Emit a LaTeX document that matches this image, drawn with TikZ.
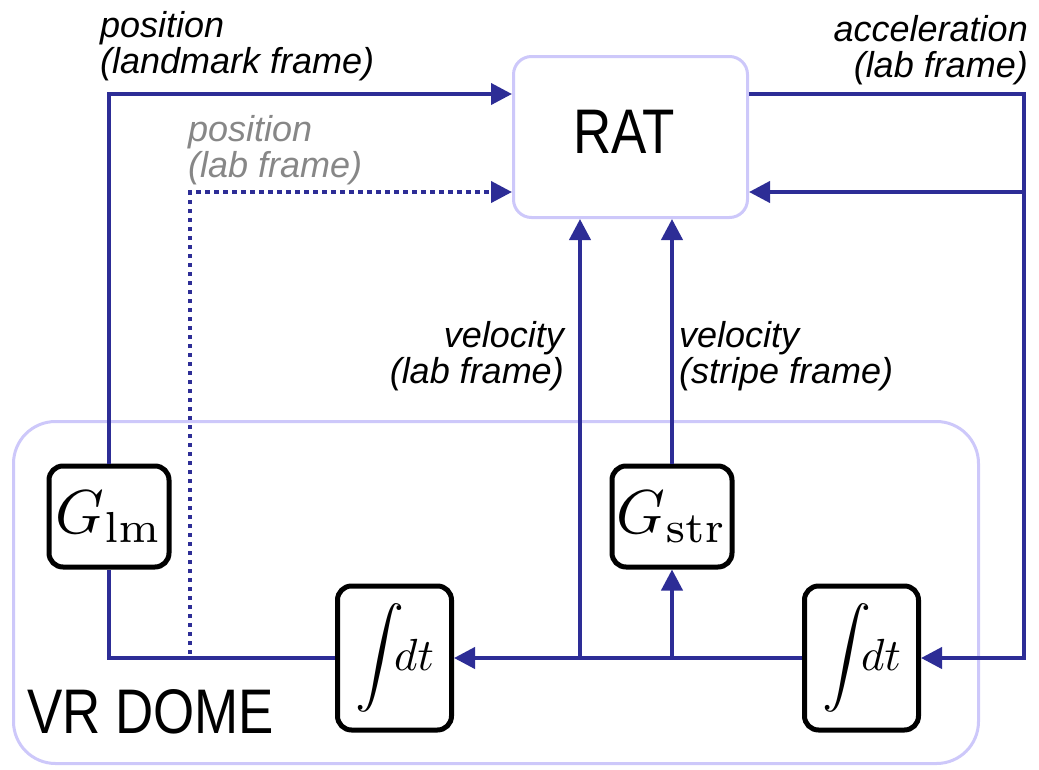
\documentclass[tikz,border=0pt]{standalone}
\usepackage[no-math]{fontspec}
\usepackage{graphicx}
\newfontfamily\arialfont{Liberation Sans}
\usetikzlibrary{arrows.meta}
\definecolor{lineblue}{RGB}{45,45,150}
\definecolor{lav}{RGB}{205,200,250}
\definecolor{lblgray}{RGB}{135,135,135}
\tikzset{
  tip/.style={-{Triangle[length=21pt,width=21pt]}},
  conn/.style={draw=lineblue, line width=4pt},
  arr/.style={conn, tip},
  dotline/.style={dash pattern=on 4.5pt off 4.5pt},
  blk/.style={draw=black, line width=5pt, rounded corners=14pt, fill=white, inner sep=0pt},
  gbox/.style={blk, minimum width=120pt, minimum height=101pt},
  ibox/.style={blk, minimum width=114pt, minimum height=144pt},
  lav box/.style={draw=lav, line width=3pt, fill=white, inner sep=0pt},
  lbl/.style={inner sep=0pt, font=\arialfont\fontsize{36}{36}\selectfont\itshape},
  big/.style={inner sep=0pt, font=\arialfont\fontsize{63}{63}\selectfont}
}
\newcommand\intdt{\scalebox{4.9}{$\displaystyle\int$}\kern-10pt\scalebox{4.5}{$dt$}}
\begin{document}
\begin{tikzpicture}[x=1pt,y=-1pt]
\useasboundingbox (0,0) rectangle (1039,769);
% VR dome container
\node[lav box, rounded corners=42pt, minimum width=965pt, minimum height=342pt] (dome) at (496,592.5) {};
\node[big, anchor=base west] (dometext) at (27,733) {\scalebox{0.84}[1]{VR DOME}};
% RAT
\node[lav box, rounded corners=18pt, minimum width=234pt, minimum height=161pt] (rat) at (630.5,137) {};
\node[big, anchor=base] (rattext) at (624,153) {\scalebox{0.84}[1]{RAT}};
% blocks
\node[gbox] (glm) at (109,516.5) {\scalebox{6.2}{$G_{\mathrm{lm}}$}};
\node[gbox] (gstr) at (672,516.5) {\scalebox{6.2}{$G_{\mathrm{str}}$}};
\node[ibox] (int1) at (394.5,658) {\intdt};
\node[ibox] (int2) at (861.5,658) {\intdt};
% coordinates
\coordinate (b1) at (580,658);
\coordinate (b2) at (672,658);
\coordinate (dotstart) at (190,654);
\coordinate (rtop) at (1024,94);
\coordinate (rmid) at (1024,192);
\coordinate (rbot) at (1024,658);
% connectors
\draw[arr] (glm.north) |- (rat.west |- rtop);
\draw[conn, dotline, tip] (dotstart) |- (rat.west |- rmid);
\draw[conn] (int1.west) -| (glm.south);
\draw[arr] (int2.west) -- (int1.east);
\draw[arr] (b1) -- (rat.south -| b1);
\draw[arr] (b2) -- (gstr.south);
\draw[arr] (gstr.north) -- (rat.south -| gstr.north);
\draw[arr] (rat.east |- rtop) -- (rtop) -- (rbot) -- (int2.east);
\draw[arr] (rmid) -- (rat.east |- rmid);
% labels
\node[lbl, anchor=base west] (lpos) at (100,37) {\begin{tabular}[t]{@{}l@{}}position\\(landmark frame)\end{tabular}};
\node[lbl, anchor=base west, text=lblgray] (lposlab) at (188,141) {\begin{tabular}[t]{@{}l@{}}position\\(lab frame)\end{tabular}};
\node[lbl, anchor=base east] (lacc) at (1028,41) {\begin{tabular}[t]{@{}r@{}}acceleration\\(lab frame)\end{tabular}};
\node[lbl, anchor=base east] (lvlab) at (564,347) {\begin{tabular}[t]{@{}r@{}}velocity\\(lab frame)\end{tabular}};
\node[lbl, anchor=base west] (lvstr) at (679,347) {\begin{tabular}[t]{@{}l@{}}velocity\\(stripe frame)\end{tabular}};
\end{tikzpicture}
\end{document}
